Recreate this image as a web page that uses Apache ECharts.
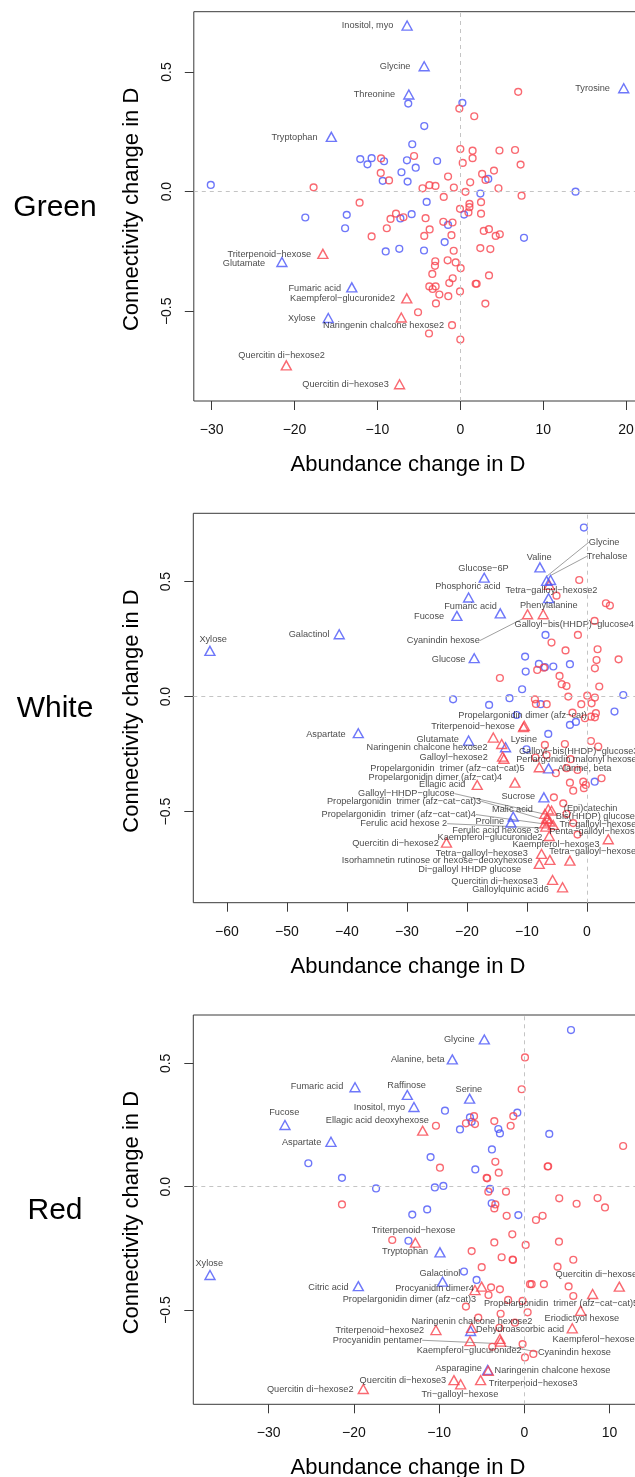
<!DOCTYPE html>
<html>
<head>
<meta charset="utf-8">
<script src="https://cdn.jsdelivr.net/npm/echarts@6/dist/echarts.min.js"></script>
<style>
html, body { margin: 0; padding: 0; background: #fff; overflow: hidden; }
#chart { width: 700px; height: 1477px; }
</style>
</head>
<body>
<div id="chart"></div>
<script>
// ---------- data: Green ----------
const greenBlueCircles = [
    [-30.1, 0.028], [0.25, 0.371], [-6.28, 0.368], [-4.35, 0.274], [-5.8, 0.198], [-12.07, 0.136],
    [-10.7, 0.14], [-11.2, 0.114], [-9.2, 0.127], [-6.44, 0.131], [-5.38, 0.10], [-2.8, 0.128],
    [-7.1, 0.081], [-9.36, 0.045], [-6.36, 0.042], [3.37, 0.053], [2.42, -0.008], [13.9, 0.0],
    [-4.06, -0.043], [-18.7, -0.108], [-13.7, -0.097], [-13.9, -0.153], [-7.23, -0.112], [-5.87, -0.094],
    [0.45, -0.096], [-1.48, -0.139], [7.68, -0.193], [-9.0, -0.25], [-7.36, -0.239], [-4.38, -0.246],
    [-1.89, -0.211]
];
const greenRedCircles = [
    [6.98, 0.417], [-0.12, 0.347], [1.68, 0.315], [0, 0.178], [1.48, 0.171], [4.72, 0.172], [6.6, 0.174],
    [0.29, 0.12], [1.48, 0.14], [7.27, 0.113], [-5.58, 0.149], [-9.56, 0.139], [-9.6, 0.078], [-8.6, 0.047],
    [-1.48, 0.063], [2.63, 0.074], [4.06, 0.088], [3.04, 0.049], [1.19, 0.039], [-4.56, 0.014], [-3.73, 0.027],
    [-3.0, 0.024], [-0.78, 0.017], [4.6, 0.014], [0.62, -0.001], [7.39, -0.017], [-17.7, 0.018], [-2.0, -0.022],
    [-12.15, -0.046], [-0.04, -0.072], [1.1, -0.051], [1.1, -0.065], [2.5, -0.044], [0.98, -0.087], [2.5, -0.092],
    [-7.76, -0.092], [-8.42, -0.114], [-6.86, -0.107], [-4.19, -0.111], [-2.05, -0.126], [-0.94, -0.129],
    [-8.87, -0.153], [-3.7, -0.158], [2.83, -0.164], [3.45, -0.157], [4.27, -0.185], [4.76, -0.178],
    [-10.7, -0.187], [-4.35, -0.185], [-1.07, -0.182], [2.41, -0.236], [3.62, -0.24], [-0.8, -0.247],
    [-3.02, -0.291], [-3.06, -0.31], [-1.53, -0.287], [-0.56, -0.296], [0.04, -0.32], [-3.38, -0.344],
    [3.46, -0.35], [-0.92, -0.362], [-1.33, -0.382], [-3.74, -0.396], [-2.98, -0.396], [-3.34, -0.407],
    [1.85, -0.385], [1.97, -0.385], [-0.04, -0.417], [-2.53, -0.43], [-1.45, -0.437], [-2.94, -0.467],
    [3.02, -0.468], [-5.1, -0.504], [-1.0, -0.558], [-3.78, -0.593], [0.0, -0.618]
];
const greenBlueTri = [
    [-6.42, 0.694, 'Inositol, myo'], [-4.36, 0.524, 'Glycine'], [-6.21, 0.406, 'Threonine'],
    [-15.56, 0.229, 'Tryptophan'], [19.71, 0.432, 'Tyrosine'], [-21.52, -0.294, 'Glutamate'],
    [-13.09, -0.40, 'Fumaric acid'], [-15.93, -0.528, 'Xylose']
];
const greenRedTri = [
    [-16.58, -0.26, 'Triterpenoid−hexose'], [-6.46, -0.446, 'Kaempferol−glucuronide2'],
    [-7.12, -0.526, 'Naringenin chalcone hexose2'], [-20.99, -0.726, 'Quercitin di−hexose2'],
    [-7.33, -0.805, 'Quercitin di−hexose3']
];

// ---------- data: White ----------
const whiteBlueCircles = [
    [-0.5, 0.735], [-6.9, 0.268], [-10.3, 0.174], [-8.0, 0.142], [-7.0, 0.128], [-5.6, 0.131], [-2.83, 0.141],
    [-10.2, 0.109], [-10.8, 0.032], [-12.9, -0.007], [-22.3, -0.012], [-16.3, -0.036], [-7.7, -0.033],
    [6.06, 0.007], [4.6, -0.065], [-11.7, -0.08], [-2.83, -0.123], [-1.83, -0.11], [-6.44, -0.162],
    [-10.06, -0.229], [1.3, -0.37]
];
const whiteRedCircles = [
    [-1.28, 0.507], [-5.06, 0.439], [3.17, 0.406], [3.83, 0.396], [1.28, 0.329], [-1.5, 0.268], [-5.9, 0.235],
    [-3.56, 0.201], [1.78, 0.206], [1.61, 0.159], [5.28, 0.162], [1.33, 0.123], [-8.28, 0.116], [-7.17, 0.126],
    [-4.56, 0.09], [-4.2, 0.054], [-3.4, 0.046], [2.06, 0.044], [-14.5, 0.081], [-3.1, 0.0], [0.06, 0.004],
    [1.33, -0.004], [-8.67, -0.012], [-8.5, -0.032], [-6.7, -0.033], [-0.94, -0.033], [0.78, -0.029],
    [-2.4, -0.07], [1.5, -0.072], [-0.33, -0.094], [1.33, -0.09], [0.67, -0.087], [-7.0, -0.21], [-3.67, -0.206],
    [0.67, -0.193], [1.89, -0.217], [-8.56, -0.265], [-6.72, -0.254], [-2.72, -0.272], [-3.39, -0.311],
    [-1.56, -0.319], [-5.17, -0.333], [-2.83, -0.374], [-0.61, -0.37], [2.44, -0.355], [-2.28, -0.409],
    [-0.5, -0.398], [-0.17, -0.384], [-5.5, -0.438], [-3.94, -0.464], [-3.39, -0.51], [-2.28, -0.55],
    [-1.56, -0.6]
];
const whiteBlueTri = [
    [-62.83, 0.199, 'Xylose'], [-41.28, 0.271, 'Galactinol'], [-17.11, 0.517, 'Glucose−6P'],
    [-19.72, 0.431, 'Phosphoric acid'], [-14.44, 0.362, 'Fumaric acid'], [-21.67, 0.351, 'Fucose'],
    [-7.83, 0.562, 'Valine'], [-6.72, 0.503, 'Glycine'], [-6.06, 0.507, 'Trehalose'],
    [-6.39, 0.428, 'Phenylalanine'], [-18.78, 0.167, 'Glucose'], [-38.1, -0.159, 'Aspartate'],
    [-19.72, -0.191, 'Glutamate'], [-13.56, -0.22, 'Lysine'], [-6.39, -0.312, 'Alanine, beta'],
    [-7.17, -0.438, 'Sucrose'], [-12.28, -0.522, 'Malic acid'], [-12.67, -0.548, 'Proline']
];
const whiteRedTri = [
    [-6.28, 0.486, 'Tetra−galloyl−hexose2'], [-9.89, 0.358, 'Cyanindin hexose'],
    [-7.28, 0.358, 'Galloyl−bis(HHDP)−glucose4'], [-10.56, -0.133, 'Triterpenoid−hexose'],
    [-10.44, -0.127, 'Propelargonidin dimer (afz−cat)'], [-15.6, -0.178, 'Naringenin chalcone hexose2'],
    [-14.2, -0.206, 'Galloyl−bis(HHDP)−glucose3'], [-14.06, -0.261, 'Galloyl−hexose2'],
    [-13.83, -0.27, 'Perlargonidin malonyl hexose'], [-7.94, -0.307, 'Propelargonidin  trimer (afz−cat−cat)5'],
    [-12.0, -0.374, 'Propelargonidin dimer (afz−cat)4'], [-18.28, -0.384, 'Ellagic acid'],
    [-6.44, -0.49, 'Galloyl−HHDP−glucose'], [-5.89, -0.496, '(Epi)catechin'],
    [-7.0, -0.51, 'Propelargonidin  trimer (afz−cat−cat)3'], [-6.72, -0.529, 'Bis(HHDP) glucose'],
    [-6.56, -0.533, 'Propelargonidin  trimer (afz−cat−cat)4'], [-6.17, -0.543, 'Ferulic acid hexose 3'],
    [-7.0, -0.551, 'Ferulic acid hexose 2'], [-5.61, -0.558, 'Tri−galloyl−hexose'],
    [-6.83, -0.565, 'Penta−galloyl−hexose'], [-6.28, -0.606, 'Kaempferol−glucuronide2'],
    [-23.4, -0.635, 'Quercitin di−hexose2'], [3.56, -0.62, 'Kaempferol−hexose3'],
    [-7.56, -0.684, 'Tetra−galloyl−hexose3'], [-2.83, -0.713, 'Tetra−galloyl−hexose'],
    [-7.94, -0.727, 'Isorhamnetin rutinose or hexose−deoxyhexose'], [-6.17, -0.71, 'Di−galloyl HHDP glucose'],
    [-5.72, -0.797, 'Quercitin di−hexose3'], [-4.06, -0.829, 'Galloylquinic acid6']
];

// ---------- data: Red ----------
const redBlueCircles = [
    [5.48, 0.635], [-9.31, 0.308], [-0.82, 0.3], [-6.38, 0.281], [-6.18, 0.263], [-7.55, 0.232], [-3.05, 0.234],
    [-2.86, 0.216], [2.93, 0.214], [-3.8, 0.151], [-11.0, 0.12], [-25.35, 0.095], [-5.75, 0.07], [-21.4, 0.036],
    [-17.4, -0.007], [-10.5, -0.003], [-9.5, 0.003], [-4.03, -0.009], [-3.83, -0.067], [-13.15, -0.113],
    [-11.4, -0.092], [-0.7, -0.115], [-13.6, -0.219], [-7.08, -0.344], [-5.6, -0.378]
];
const redRedCircles = [
    [0.08, 0.524], [-0.31, 0.395], [-5.9, 0.286], [-6.85, 0.257], [-5.79, 0.254], [-3.52, 0.266], [-1.29, 0.286],
    [-1.6, 0.247], [-10.37, 0.247], [11.6, 0.165], [-3.4, 0.101], [-9.9, 0.077], [2.74, 0.082], [2.8, 0.083],
    [-3.0, 0.057], [-4.42, 0.036], [-4.36, 0.034], [-4.22, -0.02], [-2.15, -0.02], [-21.4, -0.072], [4.1, -0.047],
    [6.14, -0.069], [8.6, -0.046], [9.47, -0.084], [-3.4, -0.072], [-3.52, -0.088], [-2.07, -0.118], [1.37, -0.135],
    [2.15, -0.118], [-15.5, -0.216], [-1.41, -0.193], [-3.52, -0.226], [0.16, -0.236], [4.07, -0.223],
    [-6.18, -0.261], [-2.66, -0.286], [-1.37, -0.295], [-1.33, -0.297], [5.75, -0.296], [3.9, -0.324],
    [-5.0, -0.326], [0.67, -0.395], [0.86, -0.395], [2.3, -0.395], [5.2, -0.404], [5.75, -0.443], [-3.9, -0.408],
    [-2.86, -0.416], [-4.2, -0.439], [-1.9, -0.459], [-0.2, -0.463], [-6.85, -0.486], [-2.78, -0.515],
    [0.39, -0.509], [-5.4, -0.531], [-1.1, -0.551], [-2.93, -0.572], [-3.76, -0.649], [-0.2, -0.638],
    [1.06, -0.678], [0.08, -0.692]
];
const redBlueTri = [
    [-4.69, 0.597, 'Glycine'], [-8.45, 0.516, 'Alanine, beta'], [-19.87, 0.403, 'Fumaric acid'],
    [-13.73, 0.372, 'Raffinose'], [-6.42, 0.357, 'Serine'], [-12.95, 0.323, 'Inositol, myo'],
    [-28.09, 0.25, 'Fucose'], [-22.69, 0.182, 'Aspartate'], [-9.9, -0.266, 'Tryptophan'],
    [-36.89, -0.358, 'Xylose'], [-9.59, -0.385, 'Galactinol'], [-19.48, -0.403, 'Citric acid'],
    [-6.3, -0.585, 'Dehydroascorbic acid'], [-4.3, -0.743, 'Asparagine']
];
const redRedTri = [
    [-11.93, 0.227, 'Ellagic acid deoxyhexose'], [-12.79, -0.227, 'Triterpenoid−hexose'],
    [-5.01, -0.405, 'Procyanidin dimer4'], [-5.79, -0.419, 'Propelargonidin dimer (afz−cat)3'],
    [11.15, -0.405, 'Quercitin di−hexose'], [8.02, -0.435, 'Propelargonidin  trimer (afz−cat−cat)5'],
    [6.61, -0.503, 'Eriodictyol hexose'], [5.63, -0.574, 'Kaempferol−hexose3'],
    [-10.37, -0.581, 'Triterpenoid−hexose2'], [-6.18, -0.572, 'Naringenin chalcone hexose2'],
    [-2.86, -0.617, 'Procyanidin pentamer'], [-2.78, -0.628, 'Cyanindin hexose'],
    [-6.38, -0.626, 'Kaempferol−glucuronide2'], [-4.23, -0.746, 'Naringenin chalcone hexose'],
    [-8.26, -0.784, 'Quercitin di−hexose3'], [-7.47, -0.801, 'Tri−galloyl−hexose'],
    [-5.13, -0.784, 'Triterpenoid−hexose3'], [-18.9, -0.82, 'Quercitin di−hexose2']
];

const greenXTicks = [-30, -20, -10, 0, 10, 20];
const whiteXTicks = [-60, -50, -40, -30, -20, -10, 0];
const redXTicks = [-30, -20, -10, 0, 10];
const yTicks = [-0.5, 0, 0.5];
const panelNames = ['Green', 'White', 'Red'];

// label placement per panel: [align, dx, dy, leader line]
const greenSpots = {
    'Inositol, myo': ['right', -13, 1], 'Glycine': ['right', -13, 1], 'Threonine': ['right', -13, 1],
    'Tryptophan': ['right', -13, 1], 'Tyrosine': ['right', -13, 1], 'Triterpenoid−hexose': ['right', -11, 1],
    'Glutamate': ['right', -16, 2], 'Fumaric acid': ['right', -10, 2], 'Kaempferol−glucuronide2': ['right', -11, 1],
    'Xylose': ['right', -12, 1], 'Naringenin chalcone hexose2': ['center', -17, 9],
    'Quercitin di−hexose2': ['center', -4, -9], 'Quercitin di−hexose3': ['right', -10, 1]
};
const whiteSpots = {
    'Xylose': ['center', 4, -11], 'Galactinol': ['right', -9, 1], 'Glucose−6P': ['center', 0, -9],
    'Phosphoric acid': ['center', 0, -10], 'Fumaric acid': ['center', -29, -6], 'Fucose': ['right', -12, 1],
    'Valine': ['center', 0, -9], 'Glycine': ['left', 43, -38, true], 'Trehalose': ['left', 37, -23, true],
    'Tetra−galloyl−hexose2': ['center', 3, 6], 'Phenylalanine': ['center', 1, 8],
    'Cyanindin hexose': ['right', -47, 27, true], 'Galloyl−bis(HHDP)−glucose4': ['left', -28, 11],
    'Glucose': ['right', -8, 2], 'Aspartate': ['right', -12, 2], 'Triterpenoid−hexose': ['right', -8, 0],
    'Propelargonidin dimer (afz−cat)': ['center', -1, -10], 'Glutamate': ['right', -9, 0],
    'Lysine': ['left', 6, -7], 'Naringenin chalcone hexose2': ['right', -5, 11],
    'Galloyl−bis(HHDP)−glucose3': ['left', 18, 8], 'Galloyl−hexose2': ['right', -14, 1],
    'Perlargonidin malonyl hexose': ['left', 13, 1], 'Propelargonidin  trimer (afz−cat−cat)5': ['right', -14, 2],
    'Alanine, beta': ['left', 10, 1], 'Propelargonidin dimer (afz−cat)4': ['right', -12, -5],
    'Ellagic acid': ['right', -11, 0], 'Sucrose': ['right', -8, 0], 'Malic acid': ['center', 0, -7],
    'Proline': ['right', -6, -1], 'Galloyl−HHDP−glucose': ['right', -93, -15, true],
    '(Epi)catechin': ['left', 13, -2], 'Propelargonidin  trimer (afz−cat−cat)3': ['right', -63, -12, true],
    'Bis(HHDP) glucose': ['left', 10, -1], 'Propelargonidin  trimer (afz−cat−cat)4': ['right', -71, -4, true],
    'Ferulic acid hexose 3': ['right', -10, 10], 'Ferulic acid hexose 2': ['right', -97, 1, true],
    'Tri−galloyl−hexose': ['left', 7, 0], 'Penta−galloyl−hexose': ['left', 4, 6],
    'Kaempferol−glucuronide2': ['right', -6, 2], 'Quercitin di−hexose2': ['right', -7, 1],
    'Kaempferol−hexose3': ['right', -8, 6], 'Tetra−galloyl−hexose3': ['right', -13, 0],
    'Tetra−galloyl−hexose': ['left', -20, -8], 'Isorhamnetin rutinose or hexose−deoxyhexose': ['right', -6, -3],
    'Di−galloyl HHDP glucose': ['right', -28, 10], 'Quercitin di−hexose3': ['right', -14, 2],
    'Galloylquinic acid6': ['right', -13, 3]
};
const redSpots = {
    'Glycine': ['right', -9, 1], 'Alanine, beta': ['right', -7, 1], 'Fumaric acid': ['right', -11, 0],
    'Raffinose': ['center', 0, -9], 'Serine': ['center', 0, -9], 'Inositol, myo': ['right', -8, 1],
    'Fucose': ['center', 0, -12], 'Ellagic acid deoxyhexose': ['right', 7, -10], 'Aspartate': ['right', -9, 1],
    'Triterpenoid−hexose': ['center', -1, -12], 'Tryptophan': ['right', -11, 0], 'Xylose': ['center', 0, -11],
    'Galactinol': ['center', -2, -8], 'Citric acid': ['right', -9, 2], 'Procyanidin dimer4': ['right', -7, 3],
    'Propelargonidin dimer (afz−cat)3': ['right', 2, 10], 'Quercitin di−hexose': ['left', -63, -11],
    'Propelargonidin  trimer (afz−cat−cat)5': ['left', -108, 10], 'Eriodictyol hexose': ['center', 2, 8],
    'Kaempferol−hexose3': ['left', -19, 12], 'Triterpenoid−hexose2': ['right', -11, 1],
    'Naringenin chalcone hexose2': ['center', 1, -6], 'Dehydroascorbic acid': ['left', 6, -1],
    'Procyanidin pentamer': ['right', -77, 2, true], 'Cyanindin hexose': ['left', 38, 11, true],
    'Kaempferol−glucuronide2': ['center', 0, 10], 'Asparagine': ['right', -5, -1],
    'Naringenin chalcone hexose': ['left', 7, 0], 'Quercitin di−hexose3': ['right', -7, 1],
    'Tri−galloyl−hexose': ['center', 0, 11], 'Triterpenoid−hexose3': ['left', 9, 4],
    'Quercitin di−hexose2': ['right', -9, 1]
};

// ---------- layout ----------
const FONT = '"Liberation Sans", Arial, Helvetica, sans-serif';
const BLUE = '#4a55f8';
const RED = '#f8434d';
const panels = [
    { left: 193.8, top: 11.7, height: 389.3, xMin: -32.15, xMax: 24, ppu: 8.29, yMin: -0.875, yMax: 0.752,
      xTicks: greenXTicks, blueC: greenBlueCircles, redC: greenRedCircles, blueT: greenBlueTri, redT: greenRedTri,
      spots: greenSpots },
    { left: 193.3, top: 513.3, height: 389.4, xMin: -65.6, xMax: 10, ppu: 6, yMin: -0.896, yMax: 0.797,
      xTicks: whiteXTicks, blueC: whiteBlueCircles, redC: whiteRedCircles, blueT: whiteBlueTri, redT: whiteRedTri,
      spots: whiteSpots },
    { left: 193.3, top: 1015, height: 389.3, xMin: -38.85, xMax: 15, ppu: 8.52, yMin: -0.882, yMax: 0.696,
      xTicks: redXTicks, blueC: redBlueCircles, redC: redRedCircles, blueT: redBlueTri, redT: redRedTri,
      spots: redSpots }
];

const minus = s => String(s).replace('-', '−');

function circleSeries(i, data, color, withRefLines) {
    const s = {
        type: 'scatter', xAxisIndex: i, yAxisIndex: i,
        symbol: 'circle', symbolSize: 6.8,
        itemStyle: { color: 'rgba(0,0,0,0)', borderColor: color, borderWidth: 1.4 },
        emphasis: { disabled: true },
        data: data
    };
    if (withRefLines) {
        s.markLine = {
            silent: true, symbol: ['none', 'none'], label: { show: false },
            lineStyle: { color: '#c4c4c4', type: [4, 4], width: 1 },
            data: [{ xAxis: 0 }, { yAxis: 0 }]
        };
    }
    return s;
}

function triSeries(i, tris, color, spots, leader) {
    return {
        type: 'scatter', xAxisIndex: i, yAxisIndex: i,
        symbol: 'triangle', symbolSize: [10, 9],
        itemStyle: { color: 'rgba(0,0,0,0)', borderColor: color, borderWidth: 1.4 },
        emphasis: { disabled: true },
        labelLine: { show: leader, lineStyle: { color: '#a0a0a0', width: 1 } },
        data: tris.filter(t => !!(spots[t[2]] && spots[t[2]][3]) === leader).map(t => {
            const sp = spots[t[2]] || ['right', -12, 1];
            return {
                name: t[2], value: [t[0], t[1]],
                label: {
                    show: true, formatter: t[2],
                    position: [5 + sp[1], 4.5 + sp[2]], align: sp[0], verticalAlign: 'middle',
                    fontSize: 9.2, fontFamily: FONT, color: '#161616'
                }
            };
        })
    };
}

const grids = [], xAxes = [], yAxes = [], series = [], graphics = [];
panels.forEach((p, i) => {
    grids.push({
        left: p.left, top: p.top, height: p.height, width: (p.xMax - p.xMin) * p.ppu,
        show: true, borderColor: '#3a3a3a', borderWidth: 1, backgroundColor: 'rgba(0,0,0,0)'
    });
    xAxes.push({
        type: 'value', gridIndex: i, min: p.xMin, max: p.xMax,
        axisLine: { show: false, onZero: false }, splitLine: { show: false },
        axisTick: { show: true, inside: false, length: 9, customValues: p.xTicks, lineStyle: { color: '#3a3a3a' } },
        axisLabel: { customValues: p.xTicks, margin: 22, fontSize: 14, fontFamily: FONT, color: '#111',
                     formatter: v => minus(v) }
    });
    yAxes.push({
        type: 'value', gridIndex: i, min: p.yMin, max: p.yMax,
        axisLine: { show: false, onZero: false }, splitLine: { show: false },
        axisTick: { show: true, inside: false, length: 9, customValues: yTicks, lineStyle: { color: '#3a3a3a' } },
        axisLabel: { customValues: yTicks, rotate: 90, margin: 20, fontSize: 14, fontFamily: FONT, color: '#111',
                     formatter: v => minus(Number(v).toFixed(1)) }
    });
    series.push(circleSeries(i, p.blueC, BLUE, true));
    series.push(circleSeries(i, p.redC, RED, false));
    series.push(triSeries(i, p.blueT, BLUE, p.spots, false));
    series.push(triSeries(i, p.redT, RED, p.spots, false));
    series.push(triSeries(i, p.blueT, BLUE, p.spots, true));
    series.push(triSeries(i, p.redT, RED, p.spots, true));

    const midY = p.top + p.height / 2;
    graphics.push({
        type: 'text', x: 55, y: midY + 1,
        style: { text: panelNames[i], fontSize: 30, fontFamily: FONT, fill: '#000',
                 align: 'center', verticalAlign: 'middle', textAlign: 'center', textVerticalAlign: 'middle' }
    });
    graphics.push({
        type: 'text', x: 132, y: midY + 3, rotation: Math.PI / 2,
        style: { text: 'Connectivity change in D', fontSize: 22, fontFamily: FONT, fill: '#000',
                 align: 'center', verticalAlign: 'middle', textAlign: 'center', textVerticalAlign: 'middle' }
    });
    graphics.push({
        type: 'text', x: 408, y: p.top + p.height + 64,
        style: { text: 'Abundance change in D', fontSize: 22, fontFamily: FONT, fill: '#000',
                 align: 'center', verticalAlign: 'middle', textAlign: 'center', textVerticalAlign: 'middle' }
    });
});

const chart = echarts.init(document.getElementById('chart'));
chart.setOption({
    backgroundColor: '#fff',
    animation: false,
    grid: grids,
    xAxis: xAxes,
    yAxis: yAxes,
    series: series,
    graphic: graphics
});
</script>
</body>
</html>
